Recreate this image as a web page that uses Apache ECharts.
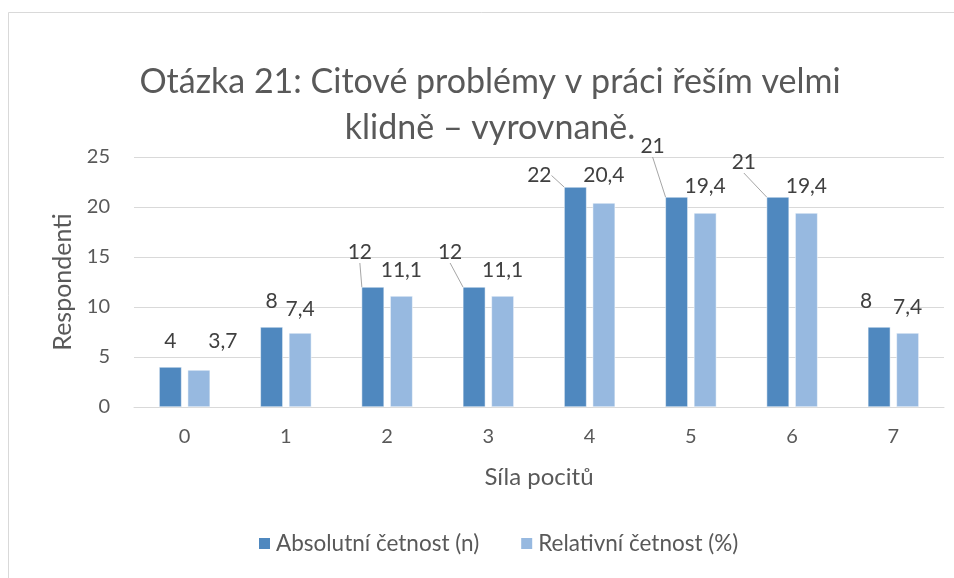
<!DOCTYPE html>
<html>
<head>
<meta charset="utf-8">
<script src="https://cdn.jsdelivr.net/npm/echarts@6/dist/echarts.min.js"></script>
<style>html,body{margin:0;padding:0;background:#fff;}#c{width:954px;height:578px;}</style>
</head>
<body>
<div id="c"></div>
<script>
const categories = ['0','1','2','3','4','5','6','7'];
const absolutni = [4, 8, 12, 12, 22, 21, 21, 8];
const relativni = [3.7, 7.4, 11.1, 11.1, 20.4, 19.4, 19.4, 7.4];
const seriesNames = ['Absolutní četnost (n)', 'Relativní četnost (%)'];
const yTicks = { min: 0, max: 25, interval: 5 };

// label nudges (style only)
const darkShift = [[0,0],[0,0],[-13,-9],[-24,-9],[-36,14],[-24,-25],[-34,-9],[-13,0]];
const lightShift = [[24,-3],[0,2],[0,0],[0,0],[0,-2],[0,-1],[0,-1],[0,0]];
const leader = [2,3,4,5,6];

const FONT = 'Lato';
const TXT = '#595959';
const fmt = v => String(v).replace('.', ',');

const chart = echarts.init(document.getElementById('c'));
chart.setOption({
  backgroundColor: '#fff',
  textStyle: { fontFamily: FONT, color: TXT },
  graphic: [{
    type: 'rect', shape: { x: 8.5, y: 12.5, width: 1200, height: 1200 },
    style: { fill: 'none', stroke: '#d9d9d9', lineWidth: 1 }, silent: true, z: -10
  }],
  title: {
    text: 'Otázka 21: Citové problémy v práci řeším velmi\nklidně – vyrovnaně.',
    left: 485, textAlign: 'center', top: 54,
    textStyle: { fontFamily: FONT, fontSize: 34, fontWeight: 'normal', color: TXT, lineHeight: 46 }
  },
  legend: {
    bottom: 18, left: 252, itemGap: 40, itemWidth: 13, itemHeight: 13, icon: 'rect',
    textStyle: { fontFamily: FONT, fontSize: 22.5, color: TXT },
    data: seriesNames
  },
  grid: { left: 134, right: 10, top: 157, bottom: 171, containLabel: false },
  xAxis: {
    type: 'category', data: categories,
    name: 'Síla pocitů', nameLocation: 'middle', nameGap: 58,
    nameTextStyle: { fontFamily: FONT, fontSize: 24, color: TXT },
    axisLine: { lineStyle: { color: '#d9d9d9', width: 1 } },
    axisTick: { show: false },
    axisLabel: { fontFamily: FONT, fontSize: 20, color: TXT, margin: 20 }
  },
  yAxis: {
    type: 'value', min: yTicks.min, max: yTicks.max, interval: yTicks.interval,
    name: 'Respondenti', nameLocation: 'middle', nameGap: 57, nameRotate: 90,
    nameTextStyle: { fontFamily: FONT, fontSize: 25, color: TXT },
    axisLine: { show: false }, axisTick: { show: false },
    axisLabel: { fontFamily: FONT, fontSize: 20, color: TXT, margin: 24 },
    splitLine: { lineStyle: { color: '#d9d9d9', width: 1 } }
  },
  series: [
    {
      name: seriesNames[0], type: 'bar', barWidth: '22.2%', barGap: '27%',
      itemStyle: { color: '#4f88bf', borderColor: '#ffffff', borderWidth: 0.5 },
      label: { show: true, position: 'top', distance: 15, fontFamily: FONT, fontSize: 21, color: '#404040', formatter: p => fmt(p.value) },
      labelLine: { show: true, lineStyle: { color: '#a6a6a6', width: 1 } },
      labelLayout: p => ({ dx: darkShift[p.dataIndex][0], dy: darkShift[p.dataIndex][1] }),
      data: absolutni.map((v, i) => ({ value: v, labelLine: { show: leader.includes(i) } }))
    },
    {
      name: seriesNames[1], type: 'bar', barWidth: '22.2%', barGap: '27%',
      itemStyle: { color: '#97b9e0', borderColor: '#ffffff', borderWidth: 0.5 },
      label: { show: true, position: 'top', distance: 15, fontFamily: FONT, fontSize: 21, color: '#404040', formatter: p => fmt(p.value) },
      labelLayout: p => ({ dx: lightShift[p.dataIndex][0], dy: lightShift[p.dataIndex][1] }),
      data: relativni
    }
  ]
});
</script>
</body>
</html>
